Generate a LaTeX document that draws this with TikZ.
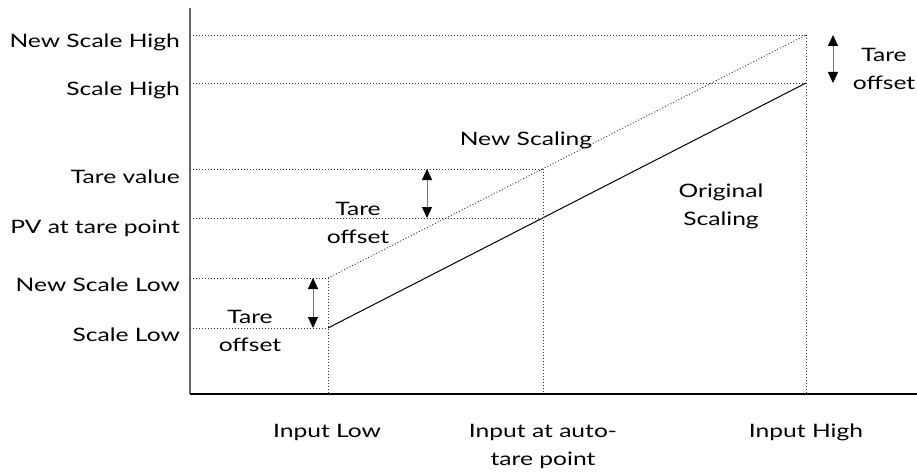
\documentclass[tikz,border=0pt]{standalone}
\usepackage{fontspec}
\setmainfont{Lato}[FakeStretch=1.33]
\usetikzlibrary{arrows.meta}

\begin{document}
\begin{tikzpicture}[x=1pt,y=-1pt,
  lab/.style={font=\fontsize{18.5}{28}\selectfont,inner sep=0pt,align=center},
  gl/.style={draw=black!80,line width=0.9pt,dash pattern=on 1pt off 2pt},
  ax/.style={line width=1.4pt},
  tare/.style={draw=black!55,line width=1pt,{Triangle[black,length=11pt,width=10pt]}-{Triangle[black,length=11pt,width=10pt]}}]
  \useasboundingbox (0,0) rectangle (917,473);
  % axes
  \coordinate (o) at (190,394); \coordinate (ytop) at (190,8); \coordinate (xend) at (917,394);
  \draw[ax,black!60] (o)--(ytop);
  \draw[ax] (o)--(xend);
  % scaling lines
  \coordinate (sl) at (328,328); \coordinate (sh) at (806,83);
  \coordinate (nl) at (328,278); \coordinate (nh) at (806,35);
  \coordinate (pv) at (543,218); \coordinate (tv) at (543,169);
  \draw[line width=1pt] (sl)--(sh);
  \draw[gl] (nl)--(nh);
  \foreach \p in {nh,sh,tv,pv,nl,sl} {
    \coordinate (a\p) at (o |- \p);
    \draw[gl] (a\p)--(\p);
  }
  \foreach \p in {nl,tv,nh} {
    \coordinate (b\p) at (o -| \p);
    \draw[gl] (\p)--(b\p);
  }
  % tare offsets
  \coordinate (t1a) at (313,278); \coordinate (t1b) at (313,328);
  \coordinate (t2a) at (427,169); \coordinate (t2b) at (427,218);
  \coordinate (t3a) at (833,35);  \coordinate (t3b) at (833,83);
  \foreach \i in {1,2,3} \draw[tare] (t\i a)--(t\i b);
  % labels (two-line nodes sit on their last line)
  \node[lab,anchor=base east] (lnsh) at (180,48) {New Scale High};
  \node[lab,anchor=base east] (lsh) at (180,96) {Scale High};
  \node[lab,anchor=base east] (ltv) at (180,183) {Tare value};
  \node[lab,anchor=base east] (lpv) at (180,233) {PV at tare point};
  \node[lab,anchor=base east] (lnsl) at (180,291) {New Scale Low};
  \node[lab,anchor=base east] (lsl) at (180,341) {Scale Low};
  \node[lab,anchor=base] (lil) at (327,437) {Input Low};
  \node[lab,anchor=base] (lia) at (543,465) {Input at auto-\\tare point};
  \node[lab,anchor=base] (lih) at (806,437) {Input High};
  \node[lab,anchor=base] (lns) at (526,146) {New Scaling};
  \node[lab,anchor=base] (los) at (721,225) {Original\\Scaling};
  \node[lab,anchor=base] (lo1) at (250,351) {Tare\\offset};
  \node[lab,anchor=base] (lo2) at (358,243) {Tare\\offset};
  \node[lab,anchor=base] (lo3) at (884,90) {Tare\\offset};
\end{tikzpicture}
\end{document}
